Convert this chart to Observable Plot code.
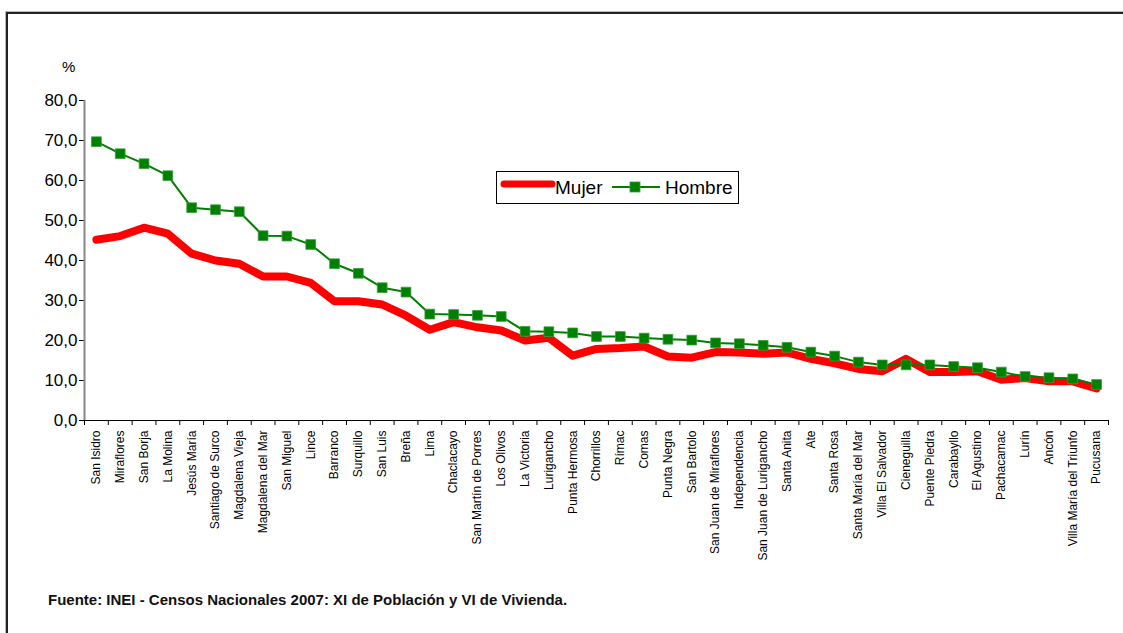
<!DOCTYPE html>
<html>
<head>
<meta charset="utf-8">
<script src="https://cdn.jsdelivr.net/npm/d3@7"></script>
<script src="https://cdn.jsdelivr.net/npm/@observablehq/plot@0.6"></script>
<style>
  html, body { margin: 0; padding: 0; background: #fff; }
  #wrap { position: relative; width: 1123px; height: 633px; overflow: hidden; font-family: "Liberation Sans", Arial, sans-serif; }
  #frame { position: absolute; left: 6px; top: 12px; width: 1200px; height: 700px; border-left: 2px solid #222; border-top: 2px solid #222; box-shadow: -1px -1px 0 #bbb; }
  #chart { position: absolute; left: 0; top: 0; }
  #pct { position: absolute; left: 62px; top: 58px; font-size: 15px; color: #000; }
  #legend { position: absolute; left: 496px; top: 171px; width: 243px; height: 33px; border: 1px solid #000; background: #fff; box-sizing: border-box; }
  #legend span { position: absolute; top: 5px; font-family: "Liberation Sans Narrow", "Arial Narrow", "Liberation Sans", sans-serif; font-size: 19px; color: #000; }
  #source { position: absolute; left: 48px; top: 591px; font-family: "Liberation Sans Narrow", "Arial Narrow", "Liberation Sans", sans-serif; font-weight: bold; font-size: 15px; color: #111; }
</style>
</head>
<body>
<div id="wrap">
  <div id="frame"></div>
  <div id="chart"></div>
  <div id="pct">%</div>
  <div id="legend">
    <svg width="243" height="33" style="position:absolute;left:0;top:0">
      <line x1="7" x2="55" y1="12" y2="12" stroke="#ff0000" stroke-width="7" stroke-linecap="round"/>
      <line x1="115" x2="163" y1="15" y2="15" stroke="#008000" stroke-width="2"/>
      <rect x="133" y="10" width="10" height="10" fill="#008000" stroke="#3c9a3c" stroke-width="0.8"/>
    </svg>
    <span style="left:58px">Mujer</span>
    <span style="left:168px">Hombre</span>
  </div>
  <div id="source">Fuente: INEI - Censos Nacionales 2007: XI de Población y VI de Vivienda.</div>
</div>
<script>
const categories = ["San Isidro","Miraflores","San Borja","La Molina","Jesús María","Santiago de Surco","Magdalena Vieja","Magdalena del Mar","San Miguel","Lince","Barranco","Surquillo","San Luis","Breña","Lima","Chaclacayo","San Martín de Porres","Los Olivos","La Victoria","Lurigancho","Punta Hermosa","Chorrillos","Rímac","Comas","Punta Negra","San Bartolo","San Juan de Miraflores","Independencia","San Juan de Lurigancho","Santa Anita","Ate","Santa Rosa","Santa María del Mar","Villa El Salvador","Cieneguilla","Puente Piedra","Carabayllo","El Agustino","Pachacamac","Lurín","Ancón","Villa María del Triunfo","Pucusana"];
const mujer = [45.2,46.1,48.2,46.7,41.7,40.0,39.2,36.0,36.0,34.4,29.8,29.8,29.0,26.2,22.7,24.6,23.3,22.5,20.0,20.7,16.2,17.9,18.1,18.5,16.0,15.7,17.1,17.0,16.7,17.0,15.4,14.3,12.9,12.3,15.4,12.1,12.1,12.3,10.2,10.6,9.8,9.8,8.0];
const hombre = [69.7,66.7,64.2,61.2,53.2,52.7,52.2,46.2,46.1,44.0,39.2,36.8,33.2,32.1,26.6,26.5,26.3,26.0,22.3,22.2,21.9,21.0,21.0,20.6,20.3,20.1,19.4,19.2,18.8,18.3,17.1,16.1,14.6,13.9,13.9,13.9,13.5,13.2,12.1,11.0,10.7,10.4,9.0];
const yTicks = [0,10,20,30,40,50,60,70,80];

const mujerData = categories.map((c, i) => ({i, c, v: mujer[i]}));
const hombreData = categories.map((c, i) => ({i, c, v: hombre[i]}));
const idx = categories.map((_, i) => i);
const bounds = [...idx.map(i => i - 0.5), categories.length - 0.5];
const fmt = d3.format(".1f");

const chart = Plot.plot({
  width: 1123,
  height: 580,
  marginLeft: 84,
  marginRight: 15,
  marginTop: 100,
  marginBottom: 160,
  style: {fontFamily: "'Liberation Sans', Arial, sans-serif", background: "transparent", color: "#000"},
  x: {type: "linear", domain: [-0.5, categories.length - 0.5]},
  y: {domain: [0, 80]},
  marks: [
    Plot.axisY({ticks: yTicks, tickSize: 5, text: null, label: null, stroke: "#000"}),
    Plot.text(yTicks, {y: d => d, frameAnchor: "left", dx: -7, textAnchor: "end", text: d => fmt(d).replace(".", ","), fontSize: 17, fill: "#000"}),
    Plot.ruleX([-0.5], {stroke: "#888", strokeWidth: 2}),
    Plot.axisX({ticks: bounds, tickSize: 5, text: null, label: null, stroke: "#000"}),
    Plot.text(idx, {x: d => d, frameAnchor: "bottom", dy: 10, rotate: -90, textAnchor: "end", lineAnchor: "middle", text: i => categories[i], fontSize: 12, fill: "#000"}),
    Plot.ruleY([0], {stroke: "#000", strokeWidth: 1.2}),
    Plot.line(mujerData, {x: "i", y: "v", stroke: "#ff0000", strokeWidth: 8, strokeLinejoin: "round", strokeLinecap: "round"}),
    Plot.line(hombreData, {x: "i", y: "v", stroke: "#008000", strokeWidth: 2}),
    Plot.dot(hombreData, {x: "i", y: "v", symbol: "square", r: 5.5, fill: "#008000", stroke: "#3c9a3c", strokeWidth: 0.8})
  ]
});
document.getElementById("chart").appendChild(chart);
</script>
</body>
</html>
